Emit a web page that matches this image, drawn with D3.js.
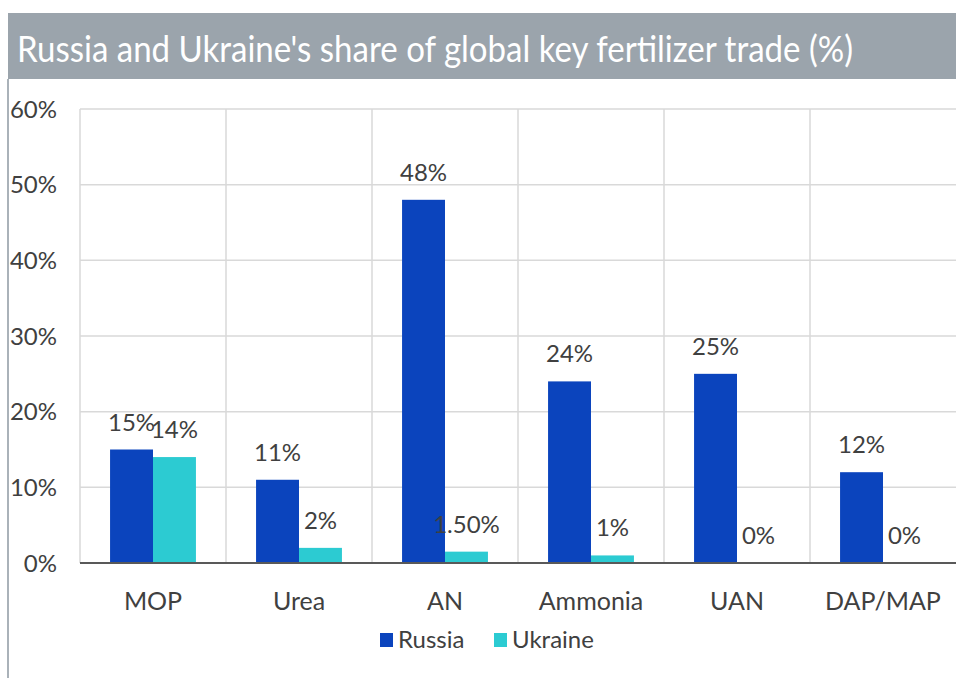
<!DOCTYPE html>
<html>
<head>
<meta charset="utf-8">
<script src="https://cdn.jsdelivr.net/npm/d3@7"></script>
<style>
  body { margin: 0; background: #fff; }
  svg { display: block; font-family: Lato, "Open Sans", sans-serif; }
</style>
</head>
<body>
<div id="chart"></div>
<script>
const categories = ['MOP', 'Urea', 'AN', 'Ammonia', 'UAN', 'DAP/MAP'];
const russia = [15, 11, 48, 24, 25, 12];
const ukraine = [14, 2, 1.5, 1, 0, 0];
const russiaLabels = ['15%', '11%', '48%', '24%', '25%', '12%'];
const ukraineLabels = ['14%', '2%', '1.50%', '1%', '0%', '0%'];
const yTicks = [0, 10, 20, 30, 40, 50, 60];
const seriesNames = ['Russia', 'Ukraine'];
const seriesColors = ['#0b44bd', '#2ccbd2'];

const width = 956;
const height = 678;
const textColor = '#404040';

function createChart() {
    const area = { left: 80, right: 956, top: 109, bottom: 563 };

    const svg = d3.select('#chart')
        .append('svg')
        .attr('width', width)
        .attr('height', height);

    // title band
    svg.append('rect')
        .attr('x', 8).attr('y', 13)
        .attr('width', width - 8).attr('height', 66)
        .attr('fill', '#9ba4ac');

    svg.append('text')
        .attr('x', 17).attr('y', 62)
        .attr('textLength', 836)
        .attr('lengthAdjust', 'spacingAndGlyphs')
        .style('font-size', '36px')
        .style('fill', '#fff')
        .text("Russia and Ukraine's share of global key fertilizer trade (%)");

    // left frame line
    svg.append('line')
        .attr('x1', 8).attr('x2', 8)
        .attr('y1', 79).attr('y2', height)
        .attr('stroke', '#aab2b9')
        .attr('stroke-width', 2);

    const xScale = d3.scaleBand()
        .domain(categories)
        .range([area.left, area.right]);

    const xInner = d3.scaleBand()
        .domain(seriesNames)
        .range([0, xScale.bandwidth()])
        .paddingOuter(0.7);

    const yScale = d3.scaleLinear()
        .domain([0, 60])
        .range([area.bottom, area.top]);

    // horizontal grid
    svg.append('g')
        .selectAll('line')
        .data(yTicks.filter(d => d > 0))
        .join('line')
        .attr('x1', area.left).attr('x2', area.right)
        .attr('y1', d => yScale(d)).attr('y2', d => yScale(d))
        .attr('stroke', '#d9d9d9')
        .attr('stroke-width', 1.5);

    // vertical grid at band edges
    svg.append('g')
        .selectAll('line')
        .data(categories)
        .join('line')
        .attr('x1', d => xScale(d)).attr('x2', d => xScale(d))
        .attr('y1', area.top).attr('y2', area.bottom)
        .attr('stroke', '#d9d9d9')
        .attr('stroke-width', 1.5);

    // y tick labels
    svg.append('g')
        .selectAll('text')
        .data(yTicks)
        .join('text')
        .attr('x', 57)
        .attr('y', d => yScale(d))
        .attr('dy', '0.36em')
        .attr('text-anchor', 'end')
        .style('font-size', '24px')
        .style('fill', textColor)
        .text(d => d + '%');

    const rows = categories.map((c, i) => ({
        cat: c,
        values: [
            { name: 'Russia', v: russia[i], label: russiaLabels[i] },
            { name: 'Ukraine', v: ukraine[i], label: ukraineLabels[i] }
        ]
    }));

    const groups = svg.append('g')
        .selectAll('g')
        .data(rows)
        .join('g')
        .attr('transform', d => `translate(${xScale(d.cat)},0)`);

    groups.selectAll('rect')
        .data(d => d.values)
        .join('rect')
        .attr('x', d => xInner(d.name))
        .attr('width', xInner.bandwidth())
        .attr('y', d => yScale(d.v))
        .attr('height', d => yScale(0) - yScale(d.v))
        .attr('fill', (d, i) => seriesColors[i]);

    groups.selectAll('text')
        .data(d => d.values)
        .join('text')
        .attr('x', d => xInner(d.name) + xInner.bandwidth() / 2)
        .attr('y', d => yScale(d.v) - 19)
        .attr('text-anchor', 'middle')
        .style('font-size', '24px')
        .style('fill', textColor)
        .text(d => d.label);

    // baseline
    svg.append('line')
        .attr('x1', area.left).attr('x2', area.right)
        .attr('y1', yScale(0)).attr('y2', yScale(0))
        .attr('stroke', '#595959')
        .attr('stroke-width', 2);

    // category labels
    svg.append('g')
        .selectAll('text')
        .data(categories)
        .join('text')
        .attr('x', d => xScale(d) + xScale.bandwidth() / 2)
        .attr('y', 610)
        .attr('text-anchor', 'middle')
        .style('font-size', '25px')
        .style('fill', textColor)
        .text(d => d);

    // legend
    const legendX = [380, 494];
    const legend = svg.append('g')
        .selectAll('g')
        .data(seriesNames)
        .join('g')
        .attr('transform', (d, i) => `translate(${legendX[i]},633)`);

    legend.append('rect')
        .attr('width', 13).attr('height', 14)
        .attr('fill', (d, i) => seriesColors[i]);

    legend.append('text')
        .attr('x', 18).attr('y', 15)
        .style('font-size', '24px')
        .style('fill', textColor)
        .text(d => d);
}

createChart();
</script>
</body>
</html>
